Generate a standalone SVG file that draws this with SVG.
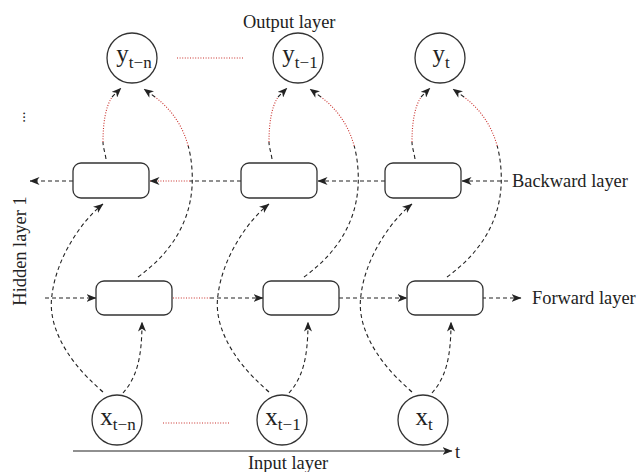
<svg xmlns="http://www.w3.org/2000/svg" width="639" height="472" viewBox="0 0 639 472">
<defs>
<marker id="ah" viewBox="0 0 10 8" refX="9.5" refY="4" markerWidth="10" markerHeight="8" markerUnits="userSpaceOnUse" orient="auto">
<path d="M0,0 L10,4 L0,8 L2.8,4 z" fill="#222"/>
</marker>
<style>
.node{fill:#fff;stroke:#333;stroke-width:1.3}
.dash{fill:none;stroke:#222;stroke-width:1.1;stroke-dasharray:4 3}
.red{fill:none;stroke:#c9302c;stroke-width:1.1;stroke-dasharray:1 1.6}
.solid{fill:none;stroke:#222;stroke-width:1.2}
.arr{marker-end:url(#ah)}
text{font-family:"Liberation Serif","Times New Roman",serif;fill:#222}
.lbl{font-size:18.4px}
.main{font-size:25px}
.sub{font-size:17px}
</style>
</defs>
<rect width="639" height="472" fill="#fff"/>

<g id="connectors">
  <g id="col1-curves">
    <path class="dash arr" d="M123,393 C136,378 142,360 142,322"/>
    <path class="dash arr" d="M103,392 C60,355 48,320 52,295 C56,260 80,222 103,204"/>
    <path class="dash" d="M138,277 C175,250 195,215 192,170 C191.5,161.25 190.19,153.25 188.19,145.94"/>
    <path class="red" d="M188.19,145.94 C182.19,124 170,108.25 155,97"/>
    <path class="dash arr" d="M155,97 L144,89"/>
    <path class="dash" d="M106,159 C105,152 103,147 103,142"/>
    <path class="red" d="M103,142 C103,125 105,108 112,97"/>
    <path class="dash arr" d="M112,97 L121,88"/>
  </g>
  <g id="col2-curves" transform="translate(166,0)">
    <path class="dash arr" d="M123,393 C136,378 142,360 142,322"/>
    <path class="dash arr" d="M103,392 C60,355 48,320 52,295 C56,260 80,222 103,204"/>
    <path class="dash" d="M138,277 C175,250 195,215 192,170 C191.5,161.25 190.19,153.25 188.19,145.94"/>
    <path class="red" d="M188.19,145.94 C182.19,124 170,108.25 155,97"/>
    <path class="dash arr" d="M155,97 L144,89"/>
    <path class="dash" d="M106,159 C105,152 103,147 103,142"/>
    <path class="red" d="M103,142 C103,125 105,108 112,97"/>
    <path class="dash arr" d="M112,97 L121,88"/>
  </g>
  <g id="col3-curves" transform="translate(309,0)">
    <path class="dash arr" d="M123,393 C136,378 142,360 142,322"/>
    <path class="dash arr" d="M103,392 C60,355 48,320 52,295 C56,260 80,222 103,204"/>
    <path class="dash" d="M138,277 C175,250 195,215 192,170 C191.5,161.25 190.19,153.25 188.19,145.94"/>
    <path class="red" d="M188.19,145.94 C182.19,124 170,108.25 155,97"/>
    <path class="dash arr" d="M155,97 L144,89"/>
    <path class="dash" d="M106,159 C105,152 103,147 103,142"/>
    <path class="red" d="M103,142 C103,125 105,108 112,97"/>
    <path class="dash arr" d="M112,97 L121,88"/>
  </g>
  <g id="backward-links">
    <path class="dash arr" d="M508,181 L462,181"/>
    <path class="dash arr" d="M385,181 L318,181"/>
    <path class="dash" d="M241,181 L190,181"/>
    <path class="red arr" d="M190,181 L150,181"/>
    <path class="dash arr" d="M73,181 L30,181"/>
  </g>
  <g id="forward-links">
    <path class="dash arr" d="M45,298 L96,298"/>
    <path class="red" d="M173,298 L210,298"/>
    <path class="dash arr" d="M210,298 L263,298"/>
    <path class="dash arr" d="M339,298 L407,298"/>
    <path class="dash arr" d="M482,298 L521,298"/>
  </g>
  <g id="ellipsis-links">
    <path class="red" d="M177,58 L243,58"/>
    <path class="red" d="M163,423 L229,423"/>
  </g>
  <path id="time-axis" class="solid arr" d="M73,451 L452,451"/>
</g>

<g id="y-tn"><circle class="node" cx="132" cy="58" r="25"/><text x="134" y="62" text-anchor="middle"><tspan class="main">y</tspan><tspan class="sub" dy="6">t−n</tspan></text></g>
<g id="y-t1"><circle class="node" cx="298" cy="58" r="25"/><text x="300" y="62" text-anchor="middle"><tspan class="main">y</tspan><tspan class="sub" dy="6">t−1</tspan></text></g>
<g id="y-t"><circle class="node" cx="440" cy="58" r="25"/><text x="441" y="62" text-anchor="middle"><tspan class="main">y</tspan><tspan class="sub" dy="6">t</tspan></text></g>

<g id="b1"><rect class="node" x="73" y="163" width="76" height="35" rx="8"/></g>
<g id="b2"><rect class="node" x="241" y="163" width="76" height="35" rx="8"/></g>
<g id="b3"><rect class="node" x="385" y="163" width="76" height="35" rx="8"/></g>

<g id="f1"><rect class="node" x="96" y="281" width="76" height="34" rx="8"/></g>
<g id="f2"><rect class="node" x="263" y="281" width="76" height="34" rx="8"/></g>
<g id="f3"><rect class="node" x="407" y="281" width="76" height="34" rx="8"/></g>

<g id="x-tn"><circle class="node" cx="117" cy="420" r="25"/><text x="118" y="425" text-anchor="middle"><tspan class="main">x</tspan><tspan class="sub" dy="5">t−n</tspan></text></g>
<g id="x-t1"><circle class="node" cx="282" cy="420" r="25"/><text x="283" y="425" text-anchor="middle"><tspan class="main">x</tspan><tspan class="sub" dy="5">t−1</tspan></text></g>
<g id="x-t"><circle class="node" cx="423" cy="420" r="25"/><text x="424" y="425" text-anchor="middle"><tspan class="main">x</tspan><tspan class="sub" dy="5">t</tspan></text></g>

<g id="labels">
  <text class="lbl" x="243" y="28">Output layer</text>
  <text class="lbl" x="512" y="187">Backward layer</text>
  <text class="lbl" x="532" y="304">Forward layer</text>
  <text class="lbl" x="248" y="469">Input layer</text>
  <text class="lbl" x="455" y="458">t</text>
  <text class="lbl" transform="translate(26,251) rotate(-90)" text-anchor="middle">Hidden layer 1</text>
  <text style="font-size:15px" transform="translate(25,117) rotate(-90)" text-anchor="middle">...</text>
</g>
</svg>
